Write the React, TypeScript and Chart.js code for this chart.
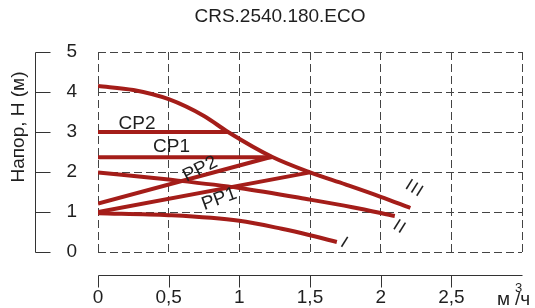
import React, { useEffect, useRef } from "react";
import { Chart, registerables } from "chart.js";

Chart.register(...registerables);

// ---- data ----
const chartTitle = "CRS.2540.180.ECO";
const yTitle = "Напор, Н (м)";
const unitMain = "м";
const unitSup = "3";
const unitTail = "/ч";

// curve III (max speed)
const flowIII = [0, 0.25, 0.5, 0.75, 0.92, 1.23, 1.5, 1.75, 2.0, 2.21];
const headIII = [4.15, 4.05, 3.82, 3.4, 3.0, 2.38, 1.99, 1.69, 1.38, 1.1];
// curve II
const flowII = [0, 0.5, 1.0, 1.5, 1.8, 2.1];
const headII = [1.99, 1.81, 1.6, 1.31, 1.12, 0.9];
// curve I
const flowI = [0, 0.5, 1.0, 1.3, 1.5, 1.69];
const headI = [0.97, 0.92, 0.78, 0.58, 0.42, 0.25];
// constant pressure
const flowCP2 = [0, 0.92];
const headCP2 = [3.0, 3.0];
const flowCP1 = [0, 1.23];
const headCP1 = [2.37, 2.37];
// proportional pressure
const flowPP2 = [0, 1.23];
const headPP2 = [1.21, 2.38];
const flowPP1 = [0, 1.5];
const headPP1 = [1.0, 1.99];

const xTicks = [0, 0.5, 1, 1.5, 2, 2.5, 3];
const yTicks = [0, 1, 2, 3, 4, 5];

const labelTexts = ["CP2", "CP1", "PP2", "PP1", "III", "II", "I"];

// ---- layout / style ----
const LINE_COLOR = "#a41d19";
const TEXT_COLOR = "#1f1f1f";
const FONT = '"Liberation Sans", Arial, sans-serif';

const labelPlacement: Record<string, { x: number; y: number; angle: number; align: CanvasTextAlign; size: number }> = {
  CP2: { x: 0.145, y: 3.2, angle: 0, align: "left", size: 19 },
  CP1: { x: 0.39, y: 2.62, angle: 0, align: "left", size: 19 },
  PP2: { x: 0.723, y: 2.07, angle: -27, align: "center", size: 19 },
  PP1: { x: 0.858, y: 1.32, angle: -20, align: "center", size: 19 },
  III: { x: 2.24, y: 1.58, angle: 32, align: "center", size: 17 },
  II: { x: 2.135, y: 0.62, angle: 32, align: "center", size: 17 },
  I: { x: 1.745, y: 0.22, angle: 32, align: "center", size: 17 },
};

const zip = (xs: number[], ys: number[]) => xs.map((x, i) => ({ x, y: ys[i] }));

const overlay = {
  id: "overlay",
  afterDatasetsDraw(chart: any) {
    const { ctx, scales } = chart;
    const xs = scales.x;
    const ys = scales.y;
    ctx.save();
    ctx.fillStyle = TEXT_COLOR;
    ctx.textBaseline = "middle";
    for (const t of labelTexts) {
      const p = labelPlacement[t];
      const px = xs.getPixelForValue(p.x);
      const py = ys.getPixelForValue(p.y);
      ctx.save();
      ctx.translate(px, py);
      ctx.rotate((p.angle * Math.PI) / 180);
      ctx.font = `${p.size}px ${FONT}`;
      ctx.textAlign = p.align;
      if (t.startsWith("I")) {
        (ctx as any).letterSpacing = "1.5px";
      }
      ctx.fillText(t, 0, 0);
      ctx.restore();
    }
    ctx.restore();
  },
  afterDraw(chart: any) {
    const { ctx, scales, chartArea } = chart;
    const xs = scales.x;
    const ys = scales.y;
    ctx.save();
    ctx.strokeStyle = "#333";
    ctx.lineWidth = 1;
    // separate y axis
    const ax = Math.round(chartArea.left - 63) + 0.5;
    ctx.beginPath();
    ctx.moveTo(ax, Math.round(ys.getPixelForValue(yTicks[yTicks.length - 1])) + 0.5);
    ctx.lineTo(ax, Math.round(ys.getPixelForValue(yTicks[0])) + 0.5);
    for (const v of yTicks) {
      const py = Math.round(ys.getPixelForValue(v)) + 0.5;
      ctx.moveTo(ax, py);
      ctx.lineTo(ax + 15, py);
    }
    ctx.stroke();
    // separate x axis
    const ay = Math.round(chartArea.bottom + 23) + 0.5;
    ctx.beginPath();
    ctx.moveTo(Math.round(xs.getPixelForValue(xTicks[0])) + 0.5, ay);
    ctx.lineTo(Math.round(xs.getPixelForValue(xTicks[xTicks.length - 1])) + 0.5, ay);
    for (const v of xTicks.slice(0, -1)) {
      const px = Math.round(xs.getPixelForValue(v)) + 0.5;
      ctx.moveTo(px, ay);
      ctx.lineTo(px, ay + 12);
    }
    ctx.stroke();

    ctx.fillStyle = TEXT_COLOR;
    // title
    ctx.font = `19px ${FONT}`;
    ctx.textAlign = "center";
    ctx.textBaseline = "middle";
    ctx.fillText(chartTitle, 280, 17);
    // y title
    ctx.save();
    ctx.translate(19, 127);
    ctx.rotate(-Math.PI / 2);
    ctx.fillText(yTitle, 0, 0);
    ctx.restore();
    // unit
    ctx.textAlign = "left";
    ctx.textBaseline = "alphabetic";
    ctx.font = `19px ${FONT}`;
    ctx.fillText(unitMain, 497, 305);
    ctx.fillText(unitTail, 515, 305);
    ctx.font = `13px ${FONT}`;
    ctx.fillText(unitSup, 515, 292);
    ctx.restore();
  },
};

export default function App() {
  const ref = useRef<HTMLCanvasElement | null>(null);
  useEffect(() => {
    if (!ref.current) return;
    const mk = (xs: number[], ys: number[], curved: boolean) => ({
      data: zip(xs, ys),
      borderColor: LINE_COLOR,
      borderWidth: 4,
      pointRadius: 0,
      fill: false,
      cubicInterpolationMode: curved ? "monotone" : "default",
      tension: 0,
      borderCapStyle: "butt",
    });
    const chart = new Chart(ref.current, {
      type: "line",
      data: {
        datasets: [
          mk(flowIII, headIII, true),
          mk(flowII, headII, true),
          mk(flowI, headI, true),
          mk(flowCP2, headCP2, false),
          mk(flowCP1, headCP1, false),
          mk(flowPP2, headPP2, false),
          mk(flowPP1, headPP1, false),
        ] as any,
      },
      options: {
        animation: false,
        responsive: false,
        maintainAspectRatio: false,
        layout: { padding: { top: 52, right: 13, left: 0, bottom: 0 } },
        plugins: { legend: { display: false }, tooltip: { enabled: false }, title: { display: false } },
        scales: {
          x: {
            type: "linear",
            min: 0,
            max: 3,
            afterBuildTicks: (s: any) => {
              s.ticks = xTicks.map((v) => ({ value: v }));
            },
            afterFit: (s: any) => {
              s.height = 56;
              s.paddingRight = 0;
              s.paddingLeft = 0;
            },
            ticks: {
              autoSkip: false,
              maxRotation: 0,
              padding: 0,
              color: TEXT_COLOR,
              font: { size: 19, family: FONT },
              callback: (v: any) => (v === xTicks[xTicks.length - 1] ? "" : String(v).replace(".", ",")),
            },
            grid: { color: "#444", lineWidth: 1, drawTicks: true, tickLength: 34, tickWidth: 0, tickColor: "rgba(0,0,0,0)" },
            border: { display: false, dash: [8, 4] },
          },
          y: {
            type: "linear",
            min: 0,
            max: 5,
            afterBuildTicks: (s: any) => {
              s.ticks = yTicks.map((v) => ({ value: v }));
            },
            afterFit: (s: any) => {
              s.width = 98;
            },
            ticks: {
              padding: 0,
              color: TEXT_COLOR,
              font: { size: 19, family: FONT },
            },
            grid: { color: "#444", lineWidth: 1, drawTicks: true, tickLength: 21, tickWidth: 0, tickColor: "rgba(0,0,0,0)" },
            border: { display: false, dash: [8, 4] },
          },
        },
      },
      plugins: [overlay],
    } as any);
    return () => chart.destroy();
  }, []);
  return (
    <div style={{ position: "absolute", left: 0, top: 0, width: 535, height: 308 }}>
      <canvas ref={ref} width={535} height={308} style={{ display: "block", width: 535, height: 308 }} />
    </div>
  );
}
